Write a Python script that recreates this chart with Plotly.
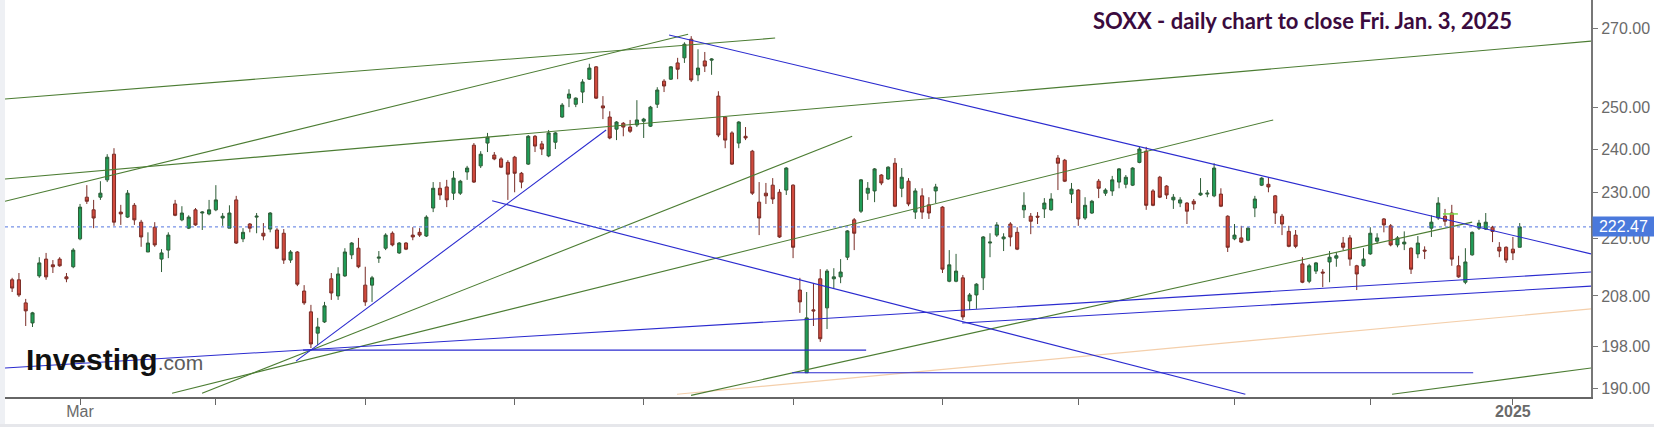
import math
import pandas as pd
import plotly.graph_objects as go

# ---------------- data ----------------
HOLIDAYS = ["2024-02-19", "2024-03-29", "2024-05-27", "2024-06-19", "2024-07-04",
            "2024-09-02", "2024-11-28", "2024-12-25", "2025-01-01"]
DATES = [d.strftime("%Y-%m-%d") for d in pd.bdate_range("2024-02-15", "2025-01-03")
         if d.strftime("%Y-%m-%d") not in HOLIDAYS]

OPEN = [211.3, 211.3, 206.6, 202.6, 212.1, 215.6, 214.4, 215.6, 211.9, 214.0,
        219.9, 229.0, 226.2, 229.0, 232.9, 238.8, 225.7, 224.6, 227.2, 223.5,
        217.1, 222.4, 215.6, 217.5, 227.5, 224.0, 222.2, 226.2, 225.5, 225.3,
        226.2, 224.4, 222.2, 228.4, 219.9, 223.1, 224.6, 221.1, 222.0, 221.8,
        221.1, 215.4, 217.1, 209.0, 204.8, 200.6, 202.8, 211.5, 208.0, 212.1,
        216.5, 217.9, 210.2, 210.2, 215.8, 217.9, 221.1, 216.9, 219.0, 220.7,
        221.3, 220.5, 226.6, 231.0, 231.3, 229.9, 229.9, 234.7, 240.9, 236.1,
        241.4, 238.6, 237.7, 236.9, 238.1, 234.4, 236.5, 243.0, 241.2, 238.4,
        241.6, 247.6, 252.2, 250.7, 253.7, 256.9, 260.0, 250.3, 247.6, 244.7,
        246.1, 245.2, 245.7, 246.6, 245.4, 250.7, 256.4, 256.9, 261.0, 262.3,
        267.1, 258.0, 261.5, 261.7, 252.7, 247.6, 243.8, 241.4, 243.0, 239.5,
        227.9, 229.9, 231.7, 230.1, 230.6, 231.7, 209.2, 193.0, 205.2, 211.5,
        205.6, 211.5, 211.9, 216.0, 224.0, 225.9, 229.9, 230.4, 234.0, 233.1,
        236.7, 231.0, 232.6, 225.7, 229.3, 227.3, 230.4, 226.8, 211.0, 211.0,
        211.7, 207.0, 208.2, 211.7, 219.0, 220.7, 219.9, 223.1, 221.3, 226.2,
        224.8, 224.8, 226.4, 226.2, 237.9, 237.4, 229.7, 230.6, 224.4, 225.5,
        232.6, 229.9, 230.4, 232.4, 231.9, 231.7, 236.9, 239.5, 230.4, 233.5,
        231.5, 228.4, 227.7, 227.7, 228.1, 229.5, 229.7, 229.3, 229.7, 224.8,
        219.9, 220.1, 219.6, 226.6, 231.7, 231.9, 229.3, 224.8, 221.5, 220.7,
        214.6, 211.0, 213.1, 212.9, 215.0, 215.8, 219.0, 220.1, 214.2, 214.2,
        216.7, 219.4, 224.2, 222.7, 218.6, 218.8, 217.9, 216.7, 217.5, 222.2,
        224.4, 224.8, 225.5, 214.2, 210.8, 216.5, 222.2, 222.0, 222.4, 218.1,
        218.1, 217.7, 218.1]

HIGH = [211.7, 212.7, 207.4, 204.8, 216.0, 216.9, 215.4, 216.0, 212.7, 217.9,
        227.5, 231.7, 228.4, 232.6, 238.8, 240.2, 227.3, 230.6, 227.7, 224.0,
        221.3, 223.5, 217.7, 221.3, 228.4, 227.0, 225.0, 226.6, 225.9, 228.4,
        231.7, 225.5, 227.2, 229.3, 222.2, 223.3, 225.5, 223.3, 225.7, 222.2,
        222.0, 217.5, 217.3, 210.2, 206.2, 203.6, 206.8, 212.7, 213.9, 217.9,
        219.2, 220.1, 214.0, 212.1, 217.3, 221.1, 221.5, 219.2, 219.2, 222.4,
        222.2, 225.0, 232.4, 232.4, 232.9, 234.9, 232.9, 236.1, 241.4, 239.5,
        243.8, 239.3, 238.1, 237.4, 238.4, 234.7, 243.3, 243.3, 241.9, 244.5,
        244.0, 251.0, 254.4, 252.4, 256.9, 260.8, 260.2, 252.7, 249.0, 246.6,
        246.4, 246.9, 251.7, 247.4, 250.3, 254.9, 256.9, 260.2, 262.3, 266.3,
        267.9, 264.5, 263.8, 262.2, 253.9, 247.8, 244.2, 246.6, 245.2, 239.8,
        232.4, 232.2, 233.3, 230.8, 235.8, 231.9, 211.7, 208.8, 210.6, 213.5,
        213.5, 213.7, 215.6, 221.8, 224.4, 233.1, 232.4, 235.6, 234.2, 236.0,
        237.9, 235.6, 233.3, 231.0, 231.0, 229.0, 232.0, 227.0, 217.5, 216.7,
        212.3, 208.6, 210.6, 220.5, 221.1, 223.5, 221.1, 223.5, 222.4, 230.1,
        225.5, 225.7, 228.8, 229.9, 238.6, 237.7, 232.2, 230.8, 229.0, 228.4,
        233.1, 231.0, 233.8, 235.6, 234.0, 235.8, 240.5, 240.5, 230.8, 233.8,
        231.7, 229.7, 229.0, 227.9, 228.6, 233.3, 230.6, 236.7, 231.0, 225.0,
        223.1, 222.7, 222.4, 229.3, 233.5, 233.5, 229.5, 225.3, 222.7, 221.8,
        216.0, 214.6, 215.0, 213.5, 217.3, 217.1, 220.3, 220.7, 214.4, 217.9,
        222.4, 221.1, 224.4, 223.1, 220.5, 221.5, 218.1, 220.5, 218.3, 225.0,
        229.0, 226.4, 227.3, 216.3, 217.9, 221.5, 224.0, 225.5, 222.7, 219.2,
        218.3, 220.3, 223.3]

LOW = [208.8, 207.8, 202.0, 201.8, 211.7, 211.3, 212.7, 214.0, 210.8, 213.7,
       219.6, 227.5, 222.2, 228.4, 232.4, 222.7, 222.9, 224.4, 222.9, 218.2,
       217.1, 218.2, 212.9, 215.8, 224.8, 223.7, 222.0, 222.7, 221.8, 225.0,
       225.9, 222.7, 222.2, 218.8, 219.2, 221.3, 221.1, 219.6, 221.3, 217.7,
       214.6, 214.8, 210.0, 206.2, 197.7, 198.3, 202.6, 207.2, 207.2, 211.9,
       215.6, 213.7, 206.0, 206.8, 214.8, 217.5, 218.3, 216.7, 217.5, 219.6,
       220.3, 220.3, 225.7, 228.4, 226.8, 228.4, 229.5, 232.9, 232.2, 235.6,
       239.3, 237.4, 235.6, 228.4, 230.1, 231.0, 236.3, 239.3, 238.6, 238.1,
       240.0, 247.4, 250.0, 250.0, 251.0, 256.7, 252.0, 247.1, 242.3, 242.1,
       243.0, 243.8, 245.2, 242.6, 245.2, 249.8, 253.7, 256.7, 256.9, 261.0,
       256.2, 256.4, 258.7, 258.0, 242.8, 240.2, 236.3, 240.2, 242.1, 229.5,
       220.7, 227.5, 227.5, 220.1, 229.5, 215.8, 204.6, 193.0, 202.0, 198.9,
       201.4, 209.6, 210.6, 215.4, 217.5, 225.5, 228.4, 227.9, 231.7, 232.9,
       226.8, 229.0, 227.0, 224.2, 224.2, 224.2, 227.7, 212.7, 210.8, 210.8,
       203.2, 205.2, 205.4, 209.2, 216.0, 220.3, 217.3, 218.3, 217.5, 224.4,
       220.9, 223.1, 224.4, 226.0, 230.6, 232.4, 227.7, 222.7, 224.0, 225.3,
       228.8, 229.3, 229.3, 231.0, 231.0, 231.5, 236.7, 226.2, 227.0, 228.8,
       228.6, 226.4, 226.8, 223.1, 226.2, 229.3, 229.0, 229.0, 226.8, 217.1,
       219.6, 219.0, 219.4, 224.6, 231.5, 230.1, 223.1, 220.7, 218.1, 217.9,
       210.6, 210.6, 212.5, 209.8, 210.8, 214.0, 217.5, 214.2, 209.2, 214.0,
       216.5, 218.8, 221.3, 218.3, 218.1, 217.5, 212.5, 215.8, 215.6, 220.3,
       224.0, 222.7, 214.2, 211.7, 210.4, 216.3, 221.8, 221.8, 219.2, 216.0,
       214.8, 215.4, 218.1]

CLOSE = [209.6, 208.2, 205.0, 204.6, 214.8, 211.9, 214.0, 214.2, 211.5, 217.5,
         226.8, 228.1, 224.4, 229.9, 238.1, 223.5, 225.3, 229.9, 224.0, 220.3,
         219.0, 218.6, 216.9, 220.7, 225.0, 225.5, 224.6, 222.9, 225.7, 226.2,
         228.4, 224.8, 225.5, 219.0, 221.3, 222.2, 224.8, 220.5, 225.5, 217.9,
         215.4, 217.1, 210.4, 206.6, 198.5, 201.8, 206.0, 208.6, 212.5, 217.1,
         219.0, 214.0, 206.8, 211.7, 216.0, 220.7, 218.6, 219.0, 217.7, 220.3,
         220.7, 224.6, 231.0, 229.5, 228.4, 233.3, 232.6, 235.6, 232.4, 238.8,
         242.8, 237.7, 235.8, 234.2, 234.4, 232.4, 243.0, 240.7, 240.0, 243.8,
         243.8, 250.5, 253.2, 252.2, 256.2, 259.7, 252.2, 249.8, 242.6, 246.4,
         245.2, 244.2, 246.9, 247.1, 250.0, 254.2, 255.2, 260.0, 259.4, 265.8,
         256.7, 259.7, 260.2, 262.0, 243.3, 242.1, 236.5, 246.4, 242.6, 229.9,
         224.4, 229.3, 228.6, 220.3, 235.6, 218.1, 206.8, 203.6, 205.0, 199.5,
         213.1, 211.9, 212.9, 221.6, 221.1, 232.9, 231.0, 235.4, 232.2, 235.8,
         227.0, 233.5, 227.5, 230.4, 225.7, 225.5, 231.3, 213.5, 214.4, 213.1,
         203.8, 208.2, 210.4, 220.3, 219.2, 222.9, 220.3, 220.3, 217.7, 227.2,
         223.7, 224.6, 227.7, 228.6, 236.7, 232.6, 230.8, 224.2, 227.2, 228.1,
         231.0, 230.6, 232.9, 235.4, 233.5, 235.6, 240.0, 227.2, 227.2, 229.0,
         229.5, 229.0, 228.4, 225.9, 227.5, 229.9, 229.9, 235.6, 227.0, 218.1,
         220.7, 219.2, 222.2, 228.6, 233.3, 231.3, 225.5, 223.1, 218.3, 218.3,
         210.8, 214.2, 214.8, 212.7, 216.0, 216.3, 218.1, 215.6, 212.5, 215.6,
         221.1, 220.1, 222.9, 218.6, 220.1, 219.2, 213.5, 219.0, 217.3, 223.5,
         227.7, 223.7, 215.6, 211.9, 215.0, 221.3, 223.3, 223.5, 221.5, 217.3,
         215.4, 216.9, 222.47]

LAST_PRICE = 222.47

TICK_DATES = ["2024-03-01", "2024-04-01", "2024-05-01", "2024-06-03", "2024-07-01",
              "2024-08-01", "2024-09-03", "2024-10-01", "2024-11-01", "2024-12-02",
              "2025-01-02"]
TICK_TEXT = ["Mar", "", "", "", "", "", "", "", "", "", "<b>2025</b>"]
Y_TICKS = [190, 198, 208, 220, 230, 240, 250, 270]

X_START = "2024-02-14 10:48"
X_END = "2025-01-17 23:59"
Y_MIN, Y_MAX = 188.5, 277.5

# hand-drawn trendlines: (start time, start price, end time, end price)
GREEN_LINES = [
    (X_START, 252.0, "2024-07-29 20:38", 267.4),
    (X_START, 228.1, "2024-07-11 01:00", 268.4),
    (X_START, 233.1, X_END, 266.6),
    ("2024-03-27 11:17", 189.2, "2024-08-14 04:48", 243.0),
    ("2024-03-21 01:12", 189.2, "2024-11-11 04:48", 246.9),
    ("2024-07-11 11:30", 188.8, "2024-12-23 12:00", 223.5),
    ("2024-12-05 16:48", 189.0, X_END, 193.9),
]
BLUE_LINES = [
    ("2024-04-17 07:12", 195.2, "2024-06-21 23:17", 244.5),
    ("2024-07-08 05:46", 268.2, X_END, 216.7),
    ("2024-05-29 04:19", 228.2, "2024-11-05 02:24", 189.0),
    (X_START, 193.9, X_END, 212.9),
    ("2024-09-06 09:36", 202.6, X_END, 210.0),
    ("2024-04-18 08:10", 197.3, "2024-08-16 06:14", 197.3),
    ("2024-08-01 08:38", 193.0, "2024-12-23 15:36", 193.0),
]
ORANGE_LINES = [("2024-07-09 09:36", 189.0, X_END, 205.4)]
LIME_LINES = [("2024-12-17 04:48", 225.3, "2024-12-19 09:36", 225.3)]

# ---------------- figure ----------------
xs = [d + " 12:00" for d in DATES]

fig = go.Figure()
fig.add_trace(go.Candlestick(
    x=xs, open=OPEN, high=HIGH, low=LOW, close=CLOSE,
    increasing=dict(fillcolor="#1f9e58", line=dict(color="#2d5c36", width=1)),
    decreasing=dict(fillcolor="#d14a3d", line=dict(color="#7a2c26", width=1)),
    whiskerwidth=0, hoverinfo="skip", showlegend=False,
))

def add_lines(lines, color, width=1.1):
    for x0, p0, x1, p1 in lines:
        fig.add_trace(go.Scatter(x=[x0, x1], y=[p0, p1], mode="lines",
                                 line=dict(color=color, width=width),
                                 hoverinfo="skip", showlegend=False))

add_lines(ORANGE_LINES, "#f4cfab")
add_lines(GREEN_LINES, "#4c7d33")
add_lines(BLUE_LINES, "#2b2bcf")
add_lines(LIME_LINES, "#7bdc4a", 1.5)

# last price dotted line
fig.add_trace(go.Scatter(x=[X_START, X_END], y=[LAST_PRICE, LAST_PRICE], mode="lines",
                         line=dict(color="#5577e0", width=1, dash="dot"),
                         hoverinfo="skip", showlegend=False))

fig.update_layout(
    width=1654, height=427,
    margin=dict(l=5, r=63, t=0, b=30),
    paper_bgcolor="white", plot_bgcolor="white",
    showlegend=False, boxgap=0.35,
    xaxis=dict(
        type="date", range=[X_START, X_END],
        rangebreaks=[dict(bounds=["sat", "mon"]), dict(values=HOLIDAYS)],
        rangeslider=dict(visible=False),
        tickmode="array", tickvals=[d + " 12:00" for d in TICK_DATES], ticktext=TICK_TEXT,
        ticks="outside", ticklen=6, tickcolor="#666", tickwidth=1,
        ticklabelstandoff=-7,
        showline=True, linecolor="#666", linewidth=2,
        showgrid=False, zeroline=False,
        tickfont=dict(family="Liberation Sans, Arial", size=16, color="#6a6a6a"),
    ),
    yaxis=dict(
        type="log", side="right",
        range=[math.log10(Y_MIN), math.log10(Y_MAX)],
        tickmode="array", tickvals=Y_TICKS, tickformat=".2f",
        ticks="outside", ticklen=5, tickcolor="#777", tickwidth=1,
        showline=True, linecolor="#777", linewidth=2,
        showgrid=False, zeroline=False,
        tickfont=dict(family="Liberation Sans, Arial", size=16, color="#6a6a6a"),
    ),
)

# decoration: light page strips
fig.add_shape(type="rect", xref="paper", yref="paper", x0=-0.004, x1=0, y0=-0.08, y1=1,
              fillcolor="#eef0f4", line=dict(width=0), layer="below")
fig.add_shape(type="rect", xref="paper", yref="paper", x0=-0.004, x1=1.04, y0=-0.0756, y1=-0.068,
              fillcolor="#e6e7eb", line=dict(width=0), layer="below")

# last price label
fig.add_annotation(xref="paper", yref="y", x=1, y=math.log10(LAST_PRICE),
                   xanchor="left", yanchor="middle", text=f"{LAST_PRICE:.2f}",
                   showarrow=False, bgcolor="#4a79dc", width=59, height=17, borderpad=1,
                   align="center", xshift=1,
                   font=dict(family="Liberation Sans, Arial", size=16, color="white"))

# title
fig.add_annotation(xref="paper", yref="paper", x=(1091 - 5) / 1586, y=(397 - 21) / 397,
                   xanchor="left", yanchor="middle", showarrow=False,
                   text="<b>SOXX - daily chart to close Fri. Jan. 3, 2025</b>",
                   font=dict(family="Lato, Noto Sans", size=22, color="#3b0b3e"))

# watermark logo
fig.add_annotation(xref="paper", yref="paper", x=(24 - 5) / 1586, y=(397 - 359) / 397,
                   xanchor="left", yanchor="middle", showarrow=False,
                   text="<b>Investing</b><span style='font-size:21px;color:#5c5c5c'>.com</span>",
                   font=dict(family="Liberation Sans, Arial", size=30, color="#111111"))

fig.write_html("out.html", config={"displayModeBar": False},
               post_script="document.body.style.margin='0px';document.body.style.overflow='hidden';")
